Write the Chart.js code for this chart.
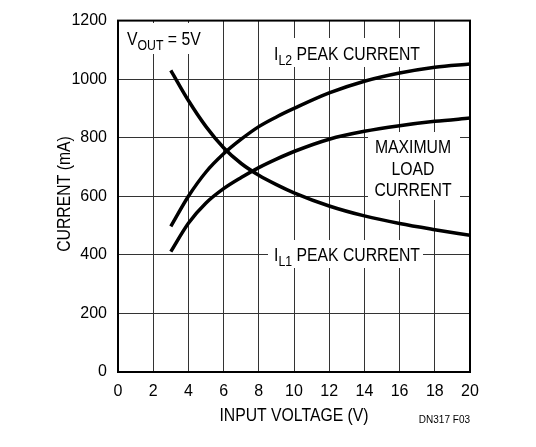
<!DOCTYPE html>
<html>
<head>
<meta charset="utf-8">
<script src="https://cdn.jsdelivr.net/npm/chart.js@4.4.1/dist/chart.umd.min.js"></script>
<style>
  html, body { margin: 0; padding: 0; background: #fff; }
  #wrap { width: 536px; height: 447px; }
</style>
</head>
<body>
<div id="wrap"><canvas id="chart"></canvas></div>
<script>
// values
const inputVoltage = [3, 4, 5, 6, 7, 8, 9, 10, 12, 14, 16, 18, 20];
const il1Peak = [1030, 927, 838, 766, 712, 672, 640, 612, 567, 533, 507, 486, 467];
const il2Peak = [497, 600, 683, 745, 795, 838, 871, 900, 953, 993, 1021, 1041, 1052];
const maxLoad = [411, 508, 577, 626, 664, 698, 727, 753, 795, 822, 841, 856, 867];

const xTicks = [0, 2, 4, 6, 8, 10, 12, 14, 16, 18, 20];
const yTicks = [0, 200, 400, 600, 800, 1000, 1200];

const FONT = "'Liberation Sans', Arial, sans-serif";
const SQUEEZE = 0.83; // reference uses a condensed face

const toPoints = (ys) => inputVoltage.map((x, i) => ({ x: x, y: ys[i] }));

const curve = (label, ys) => ({
    label: label,
    data: toPoints(ys),
    borderColor: "#000",
    borderWidth: 3.5,
    pointRadius: 0,
    fill: false,
    cubicInterpolationMode: "monotone",
});

// condensed text, optional subscript parts: [[text, sub?], ...]
function drawRich(ctx, parts, x, y, size, align) {
    ctx.save();
    ctx.textAlign = "left";
    let w = 0;
    parts.forEach(([txt, sub]) => {
        ctx.font = (sub ? size * 0.78 : size) + "px " + FONT;
        w += ctx.measureText(txt).width;
    });
    let cx = align === "center" ? -w / 2 : 0;
    ctx.translate(x, y);
    ctx.scale(SQUEEZE, 1);
    parts.forEach(([txt, sub]) => {
        ctx.font = (sub ? size * 0.78 : size) + "px " + FONT;
        ctx.fillText(txt, cx, sub ? size * 0.28 : 0);
        cx += ctx.measureText(txt).width;
    });
    ctx.restore();
}

const annotations = {
    id: "annotations",
    beforeDatasetsDraw(chart) {
        const { ctx, chartArea: a } = chart;
        ctx.save();
        // white boxes cutting the grid behind the labels
        ctx.fillStyle = "#fff";
        ctx.fillRect(121, 23, 84, 31);
        ctx.fillRect(268, 38, 156, 29);
        ctx.fillRect(368, 132, 92, 68);
        ctx.fillRect(268, 240, 155, 28);

        ctx.fillStyle = "#000";
        ctx.textBaseline = "alphabetic";
        drawRich(ctx, [["V"], ["OUT", true], [" = 5V"]], 127, 45, 19);
        drawRich(ctx, [["I"], ["L2", true], [" PEAK CURRENT"]], 274, 60, 19);
        drawRich(ctx, [["I"], ["L1", true], [" PEAK CURRENT"]], 274, 261, 19);
        drawRich(ctx, [["MAXIMUM"]], 413, 153, 19, "center");
        drawRich(ctx, [["LOAD"]], 413, 175, 19, "center");
        drawRich(ctx, [["CURRENT"]], 413, 196, 19, "center");

        // frame
        ctx.strokeStyle = "#000";
        ctx.lineWidth = 2;
        ctx.strokeRect(a.left, a.top, a.right - a.left, a.bottom - a.top);

        // axis titles and figure id
        drawRich(ctx, [["INPUT VOLTAGE (V)"]], 294, 421, 19, "center");
        ctx.save();
        ctx.translate(70, 194);
        ctx.rotate(-Math.PI / 2);
        drawRich(ctx, [["CURRENT (mA)"]], 0, 0, 19, "center");
        ctx.restore();
        ctx.textAlign = "right";
        ctx.textBaseline = "middle";
        ctx.font = "10px " + FONT;
        ctx.fillText("DN317 F03", 470, 420);
        ctx.restore();
    },
};

new Chart(document.getElementById("chart"), {
    type: "line",
    data: {
        datasets: [
            curve("IL1 PEAK CURRENT", il1Peak),
            curve("IL2 PEAK CURRENT", il2Peak),
            curve("MAXIMUM LOAD CURRENT", maxLoad),
        ],
    },
    options: {
        responsive: true,
        maintainAspectRatio: false,
        animation: false,
        layout: { padding: { left: 0, top: 20, right: 66, bottom: 0 } },
        plugins: {
            legend: { display: false },
            tooltip: { enabled: false },
        },
        scales: {
            x: {
                type: "linear",
                min: 0,
                max: 20,
                afterBuildTicks: (s) => { s.ticks = xTicks.map(v => ({ value: v })); },
                afterFit: (s) => { s.height = 75; },
                ticks: {
                    color: "#000",
                    font: { family: FONT, size: 16 },
                    padding: 10,
                    maxRotation: 0,
                    callback: (v) => String(v),
                },
                grid: { color: "#333", lineWidth: 1, drawTicks: false },
                border: { color: "#000", width: 2 },
            },
            y: {
                min: 0,
                max: 1200,
                afterBuildTicks: (s) => { s.ticks = yTicks.map(v => ({ value: v })); },
                afterFit: (s) => { s.width = 118; },
                ticks: {
                    color: "#000",
                    font: { family: FONT, size: 16 },
                    padding: 11,
                    callback: (v) => String(v),
                },
                grid: { color: "#333", lineWidth: 1, drawTicks: false },
                border: { color: "#000", width: 2 },
            },
        },
    },
    plugins: [annotations],
});
</script>
</body>
</html>
